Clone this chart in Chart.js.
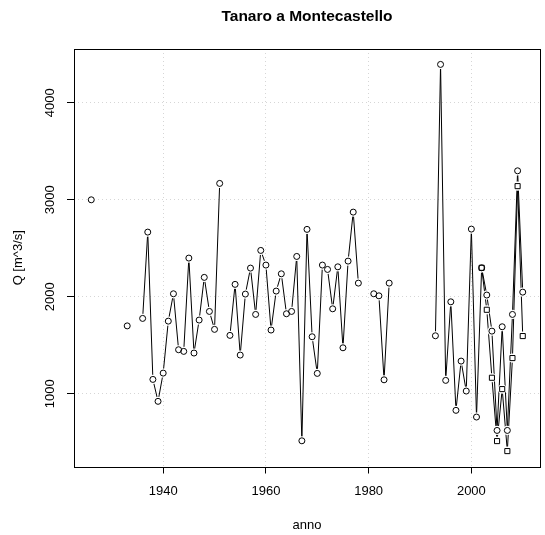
<!DOCTYPE html>
<html>
<head>
<meta charset="utf-8">
<script src="https://cdn.jsdelivr.net/npm/chart.js@4"></script>
<style>
  body { margin: 0; background: #fff; }
  canvas { display: block; }
</style>
</head>
<body>
<canvas id="myChart" width="545" height="535"></canvas>
<script>
// annual values, null marks a break in the line
const years = [
  1926, 1927, 1933, 1934, 1936, 1937, 1938, 1939, 1940, 1941, 1942, 1943, 1944,
  1945, 1946, 1947, 1948, 1949, 1950, 1951, 1952, 1953, 1954, 1955, 1956, 1957,
  1958, 1959, 1960, 1961, 1962, 1963, 1964, 1965, 1966, 1967, 1968, 1969, 1970,
  1971, 1972, 1973, 1974, 1975, 1976, 1977, 1978, 1979, 1981, 1982, 1983, 1984,
  1985, 1993, 1994, 1995, 1996, 1997, 1998, 1999, 2000, 2001, 2002, 2003, 2004,
  2005, 2006, 2007, 2008, 2009, 2010,
];
const qCircle = [
  3000, null, 1700, null, 1777, 2667, 1148, 922, 1213, 1749, 2031, 1454, 1437,
  2399, 1420, 1760, 2200, 1849, 1664, 3169, null, 1602, 2128, 1399, 2028, 2296,
  1818, 2478, 2327, 1657, 2059, 2237, 1825, 1849, 2416, 515, 2695, 1588, 1210,
  2327, 2282, 1876, 2309, 1474, 2368, 2873, 2141, null, 2031, 2010, 1144, 2141,
  null, 1598, 4396, 1138, 1948, 829, 1337, 1028, 2698, 760, 2299, 2018, 1646,
  622, 1691, 622, 1818, 3299, 2048,
];
const yearsSquare = [2002, 2003, 2004, 2005, 2006, 2007, 2008, 2009, 2010];
const qSquare = [2299, 1866, 1165, 512, 1048, 409, 1368, 3141, 1595];

const xTicks = [1940, 1960, 1980, 2000];
const yTicks = [1000, 2000, 3000, 4000];

const FONT = "'Liberation Sans', Arial, Helvetica, sans-serif";
Chart.defaults.font.family = FONT;
Chart.defaults.font.size = 13;
Chart.defaults.color = "#000";

const toXY = (xs, ys) => xs.map((x, i) => ({ x: x, y: ys[i] }));

// type="b" look: clear the line around each point, then redraw the points
const gapPoints = {
  id: "gapPoints",
  afterDatasetsDraw(chart) {
    const ctx = chart.ctx;
    const metas = chart.getSortedVisibleDatasetMetas();
    ctx.save();
    ctx.fillStyle = "#fff";
    metas.forEach((meta) => {
      meta.data.forEach((p) => {
        if (p.skip) return;
        ctx.beginPath();
        ctx.arc(p.x, p.y, 4.6, 0, Math.PI * 2);
        ctx.fill();
      });
    });
    ctx.restore();
    metas.forEach((meta) => {
      meta.data.forEach((p) => {
        if (!p.skip) p.draw(ctx, chart.chartArea);
      });
    });
  },
};

// box, main title and rotated y labels, drawn like base R
const rStyle = {
  id: "rStyle",
  afterDraw(chart) {
    const { ctx, chartArea: a, scales } = chart;
    ctx.save();
    ctx.strokeStyle = "#000";
    ctx.lineWidth = 1;
    ctx.strokeRect(Math.round(a.left) + 0.5, Math.round(a.top) + 0.5,
      Math.round(a.right - a.left), Math.round(a.bottom - a.top));

    ctx.fillStyle = "#000";
    ctx.font = "bold 15.5px " + FONT;
    ctx.textAlign = "center";
    ctx.textBaseline = "middle";
    ctx.fillText("Tanaro a Montecastello", (a.left + a.right) / 2, 16.5);

    ctx.font = "13px " + FONT;
    yTicks.forEach((v) => {
      const py = scales.y.getPixelForValue(v);
      ctx.save();
      ctx.translate(50, py);
      ctx.rotate(-Math.PI / 2);
      ctx.fillText(String(v), 0, 0);
      ctx.restore();
    });
    ctx.restore();
  },
};

const config = {
  type: "line",
  data: {
    datasets: [
      {
        data: toXY(years, qCircle),
        borderColor: "#000",
        borderWidth: 1,
        pointStyle: "circle",
        pointRadius: 3,
        pointBorderWidth: 1,
        pointBorderColor: "#000",
        pointBackgroundColor: "rgba(0,0,0,0)",
        spanGaps: false,
        tension: 0,
      },
      {
        data: toXY(yearsSquare, qSquare),
        borderColor: "#000",
        borderWidth: 1,
        pointStyle: "rect",
        pointRadius: 3.6,
        pointBorderWidth: 1,
        pointBorderColor: "#000",
        pointBackgroundColor: "rgba(0,0,0,0)",
        tension: 0,
      },
    ],
  },
  options: {
    responsive: false,
    animation: false,
    layout: {
      padding: { top: 49, right: 4, left: 0, bottom: 0 },
    },
    plugins: {
      legend: { display: false },
      title: { display: false },
      tooltip: { enabled: false },
    },
    scales: {
      x: {
        type: "linear",
        min: 1922.64,
        max: 2013.36,
        afterBuildTicks: (s) => { s.ticks = xTicks.map((v) => ({ value: v })); },
        afterFit: (s) => { s.height = 68.5; },
        ticks: {
          padding: 10,
          callback: (v) => String(v),
        },
        grid: {
          color: "#d6d6d6",
          tickColor: "#000",
          tickLength: 7,
          tickBorderDash: [],
        },
        border: { display: false, dash: [1, 3] },
        title: {
          display: true,
          text: "anno",
          font: { size: 13 },
          padding: { top: 0, bottom: 1.5 },
        },
      },
      y: {
        type: "linear",
        min: 250,
        max: 4555,
        afterBuildTicks: (s) => { s.ticks = yTicks.map((v) => ({ value: v })); },
        afterFit: (s) => { s.width = 74; },
        ticks: { display: false },
        grid: {
          color: "#d6d6d6",
          tickColor: "#000",
          tickLength: 7,
          tickBorderDash: [],
        },
        border: { display: false, dash: [1, 3] },
        title: {
          display: true,
          text: "Q [m^3/s]",
          font: { size: 13 },
          padding: { top: 11, bottom: 0 },
        },
      },
    },
  },
  plugins: [gapPoints, rStyle],
};

const myChart = new Chart(document.getElementById("myChart"), config);
</script>
</body>
</html>
